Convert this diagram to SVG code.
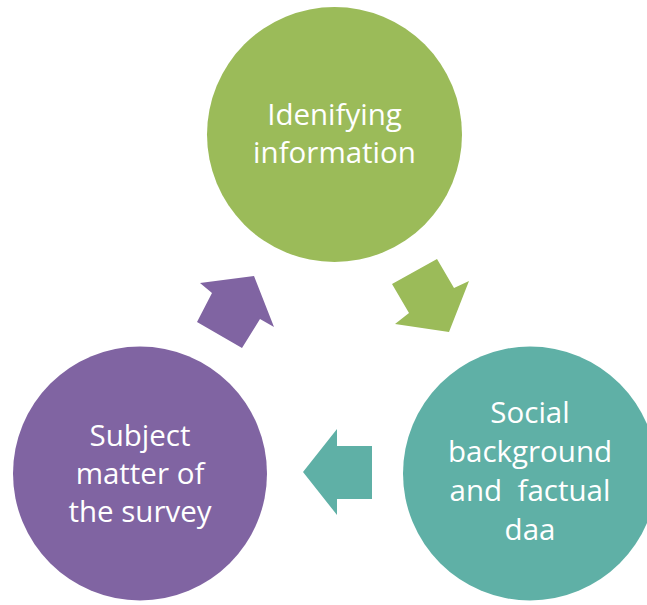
<svg xmlns="http://www.w3.org/2000/svg" width="647" height="605" viewBox="0 0 647 605">
<style>
  .lbl { font-family: "Open Sans", "Liberation Sans", sans-serif; font-size: 29.5px; fill: #ffffff; text-anchor: middle; white-space: pre; }
  .green { fill: #9BBB59; }
  .teal { fill: #5FB0A6; }
  .purple { fill: #8064A2; }
</style>
<rect width="647" height="605" fill="#ffffff"/>
<g id="node-identifying">
  <circle class="green" cx="334.5" cy="134.5" r="127.5"/>
  <text class="lbl" x="334.5" y="125">Idenifying</text>
  <text class="lbl" x="334.5" y="163">information</text>
</g>
<g id="node-social">
  <circle class="teal" cx="530" cy="473.5" r="127"/>
  <text class="lbl" x="530" y="423">Social</text>
  <text class="lbl" x="530" y="462">background</text>
  <text class="lbl" x="530" y="501" xml:space="preserve">and  factual</text>
  <text class="lbl" x="530" y="540">daa</text>
</g>
<g id="node-subject">
  <circle class="purple" cx="140" cy="473.5" r="127"/>
  <text class="lbl" x="140" y="446">Subject</text>
  <text class="lbl" x="140" y="484">matter of</text>
  <text class="lbl" x="140" y="522">the survey</text>
</g>
<g id="connectors">
  <polygon class="green" points="392,284 437,259 454,288 469,281 449,332 395,324 409,313"/>
  <polygon class="teal" points="303,472 337,429 337,446 372,446 372,499 337,499 337,515"/>
  <polygon class="purple" points="200,283 254,276 274,327 260,319 242,348 197,322 212,293"/>
</g>
</svg>
